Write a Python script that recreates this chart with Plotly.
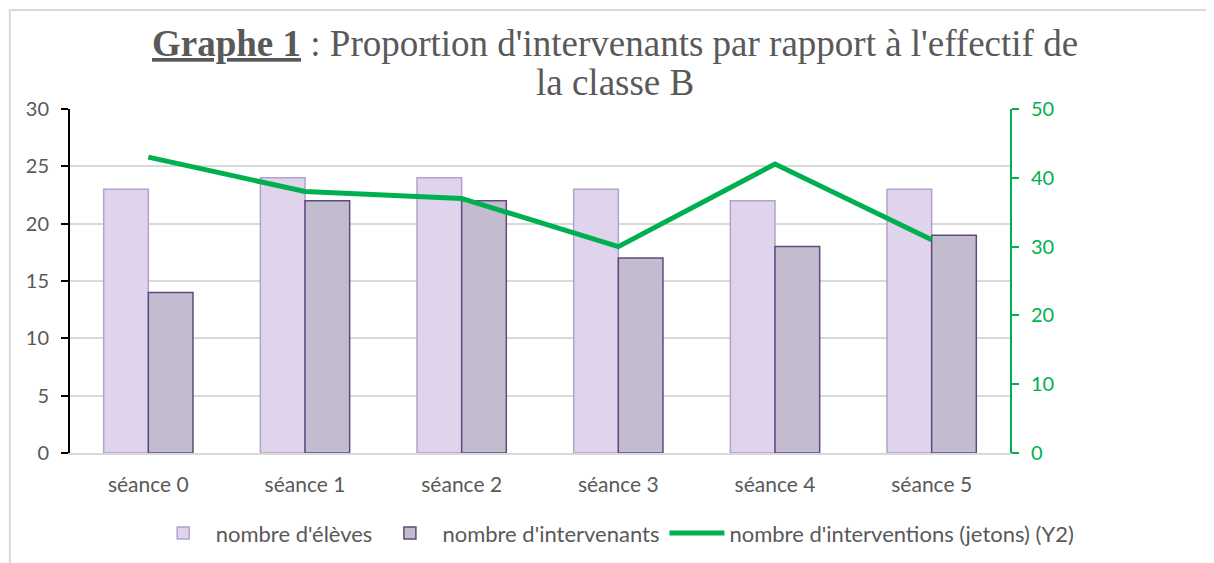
import plotly.graph_objects as go

categories = ["séance 0", "séance 1", "séance 2", "séance 3", "séance 4", "séance 5"]
eleves = [23, 24, 24, 23, 22, 23]
intervenants = [14, 22, 22, 17, 18, 19]
interventions = [43, 38, 37, 30, 42, 31]

y1_ticks = [0, 5, 10, 15, 20, 25, 30]
y2_ticks = [0, 10, 20, 30, 40, 50]

GRAY = "#595959"
GREEN = "#00b050"
FONT = "Lato, 'Open Sans', sans-serif"
SERIF = "'Liberation Serif', 'Times New Roman', serif"

fig = go.Figure()
fig.add_trace(go.Bar(
    x=categories, y=eleves, name="nombre d'élèves",
    marker=dict(color="#dfd4eb", line=dict(color="#b3a2cc", width=1.5)),
))
fig.add_trace(go.Bar(
    x=categories, y=intervenants, name="nombre d'intervenants",
    marker=dict(color="#c3bccf", line=dict(color="#5f4a80", width=1.5)),
))
fig.add_trace(go.Scatter(
    x=categories, y=interventions, name="nombre d'interventions (jetons) (Y2)",
    yaxis="y2", mode="lines", line=dict(color=GREEN, width=5),
))

fig.update_layout(
    width=1214, height=563,
    paper_bgcolor="white", plot_bgcolor="white",
    margin=dict(l=62, r=212, t=101, b=118, autoexpand=False),
    barmode="group", bargap=0.43, bargroupgap=0,
    font=dict(family=FONT, color=GRAY, size=21),
    showlegend=True,
    legend=dict(orientation="h", x=0.58, xanchor="center", y=-0.233, yanchor="middle",
                font=dict(size=22, color=GRAY), traceorder="normal",
                itemwidth=55, bgcolor="rgba(0,0,0,0)"),
    xaxis=dict(showline=True, linecolor="#d9d9d9", linewidth=2, ticks="",
               tickfont=dict(size=21, color=GRAY), showgrid=False,
               ticklabelstandoff=12, automargin=False),
    yaxis=dict(range=[0, 30], tickvals=y1_ticks, showline=True, linecolor="black", linewidth=2,
               ticks="outside", ticklen=7, tickcolor="black", tickwidth=2,
               showgrid=True, gridcolor="#d9d9d9", gridwidth=2,
               tickfont=dict(size=20, color=GRAY), zeroline=False,
               ticklabelstandoff=8, automargin=False),
    yaxis2=dict(range=[0, 50], tickvals=y2_ticks, overlaying="y", side="right",
                showline=True, linecolor=GREEN, linewidth=2,
                ticks="outside", ticklen=7, tickcolor=GREEN, tickwidth=2,
                showgrid=False, zeroline=False, tickfont=dict(size=20, color=GREEN),
                ticklabelstandoff=8, automargin=False),
)

fig.add_annotation(
    xref="paper", yref="paper", x=0.58, y=1.189, xanchor="center", yanchor="middle",
    text="<b><u>Graphe 1</u></b> : Proportion d'intervenants par rapport à l'effectif de",
    showarrow=False, font=dict(family=SERIF, size=37, color=GRAY),
)
fig.add_annotation(
    xref="paper", yref="paper", x=0.58, y=1.078, xanchor="center", yanchor="middle",
    text="la classe B",
    showarrow=False, font=dict(family=SERIF, size=37, color=GRAY),
)

fig.add_shape(type="rect", xref="paper", yref="paper",
              x0=-0.064, x1=1.25, y0=-0.38, y1=1.288,
              line=dict(color="#d9d9d9", width=2), fillcolor="rgba(0,0,0,0)", layer="below")

fig.write_html("out.html")
